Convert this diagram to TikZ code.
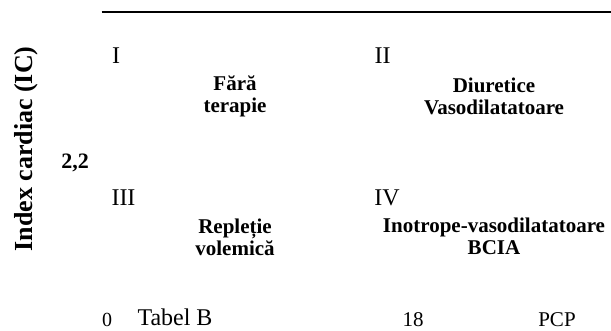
\documentclass[tikz,border=0pt]{standalone}
\usepackage{fontspec}
\setmainfont{Liberation Serif}
\begin{document}
\begin{tikzpicture}[x=1pt,y=-1pt,
  lbl/.style={inner sep=0pt,outer sep=0pt,font=\fontsize{21}{22}\selectfont\bfseries,align=center},
  roman/.style={inner sep=0pt,outer sep=0pt,anchor=base,font=\fontsize{24}{26}\selectfont},
  tick/.style={inner sep=0pt,outer sep=0pt,anchor=base,text depth=0pt,font=\fontsize{21}{22}\selectfont},
  axisline/.style={line width=2pt}]
\useasboundingbox (0,0) rectangle (611,330);
\coordinate (ls) at (101.5,12);
\coordinate (le) at (611,12);
\draw[axisline] (ls) -- (le);
\node[inner sep=0pt,anchor=base,rotate=90,font=\fontsize{26}{28}\selectfont\bfseries] (ylab) at (32,149) {Index cardiac (IC)};
\node[tick,font=\fontsize{22}{24}\selectfont\bfseries] (v22) at (75,168) {2,2};
\node[roman] (q1) at (116,63) {I};
\node[roman] (q2) at (382.5,63) {II};
\node[roman] (q3) at (123.5,205) {III};
\node[roman] (q4) at (387,205) {IV};
\node[lbl] (t1) at (235,96) {Fără\\terapie};
\node[lbl] (t2) at (494,96) {Diuretice\\Vasodilatatoare};
\node[lbl] (t3) at (235,237) {Repleție\\volemică};
\node[lbl] (t4) at (494,236) {Inotrope-vasodilatatoare\\BCIA};
\node[tick,font=\fontsize{20}{22}\selectfont] (x0) at (107,326) {0};
\node[tick,font=\fontsize{24}{26}\selectfont] (tab) at (175,325.5) {Tabel B};
\node[tick] (x18) at (413,326) {18};
\node[tick] (pcp) at (557,326) {PCP};
\end{tikzpicture}
\end{document}
